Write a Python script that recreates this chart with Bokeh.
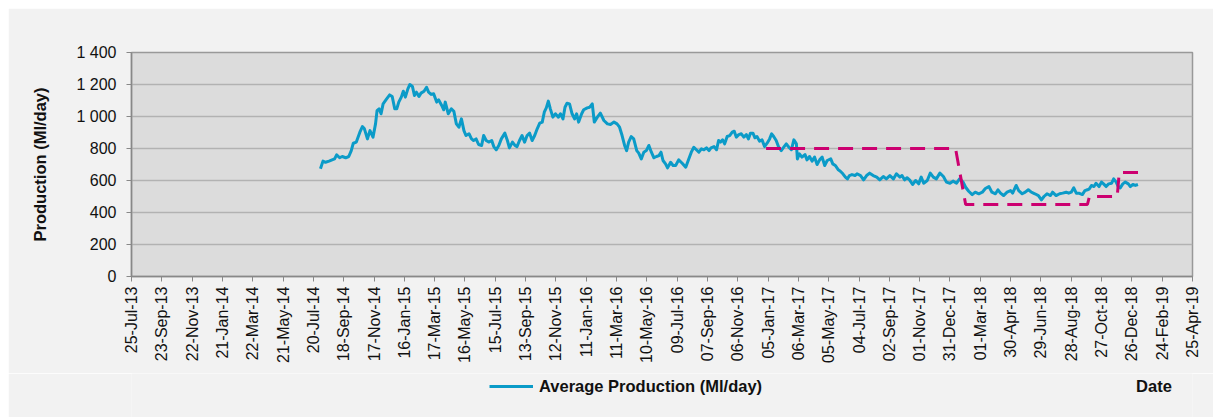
import pandas as pd
from bokeh.plotting import figure
from bokeh.layouts import column, row
from bokeh.models import (Range1d, FixedTicker, DatetimeTickFormatter, Legend, LegendItem,
                          ColumnDataSource, Spacer)
from bokeh.embed import file_html
from bokeh.resources import INLINE

# ---------------- data ----------------
origin = "2013-07-25"
days_since_origin = [
    374, 379, 384, 391, 397, 402, 406, 412, 417, 424, 430, 435, 439, 445, 452, 457, 461, 467, 472, 478,
    483, 486, 490, 494, 498, 505, 511, 516, 521, 525, 529, 534, 538, 542, 547, 551, 556, 560, 564, 569,
    573, 579, 584, 588, 593, 598, 604, 608, 614, 618, 621, 627,
    633, 638, 643, 648, 653, 658, 662, 668, 673, 677, 682, 687, 693, 697, 702, 707, 713, 717, 722, 727,
    732, 739, 744, 748, 754, 759, 763, 768, 773, 778, 783, 788, 793, 798, 803, 808, 813, 817, 821, 825,
    829, 834, 839, 845, 849, 854, 858, 862, 867, 872, 877, 881, 885, 891, 895,
    902, 907, 912, 916, 922, 928, 935, 942, 948, 955, 961, 966, 971, 976, 980, 984, 989, 994, 1000, 1004,
    1009, 1014, 1019, 1024, 1029, 1034, 1039, 1044, 1048, 1052, 1057, 1061, 1067, 1072, 1077, 1083, 1090,
    1097, 1103, 1108, 1113, 1118, 1123, 1128, 1133, 1138, 1143, 1147, 1153, 1158, 1162,
    1166, 1170, 1174, 1179, 1184, 1189, 1193, 1197, 1202, 1207, 1212, 1217, 1221, 1225, 1230, 1234, 1238,
    1243, 1248, 1253, 1258, 1263, 1267, 1271, 1276, 1281, 1286, 1291, 1296, 1301, 1306, 1311, 1316, 1318,
    1322, 1327, 1333, 1337, 1342, 1347, 1352, 1357, 1362, 1367, 1372, 1377, 1384, 1388, 1393, 1399, 1403,
    1408, 1413, 1417, 1421, 1426, 1432,
    1436, 1443, 1449, 1455, 1461, 1468, 1475, 1481, 1488, 1494, 1501, 1508, 1514, 1521, 1525, 1530, 1535,
    1540, 1546, 1552, 1558, 1563, 1568, 1575, 1581, 1587, 1593, 1600, 1607, 1613, 1620, 1626, 1633, 1639,
    1646, 1651, 1657, 1664, 1670, 1677, 1684,
    1690, 1697, 1703, 1710, 1715, 1720, 1726, 1733, 1740, 1744, 1751, 1756, 1763, 1769, 1775, 1781, 1788,
    1795, 1801, 1806, 1812, 1819, 1823, 1830, 1837, 1843, 1850, 1855, 1860, 1865, 1870, 1875, 1882, 1887,
    1892, 1896, 1900, 1905, 1909, 1915, 1920, 1924, 1929, 1934, 1940, 1944, 1949, 1953, 1957, 1962, 1967,
    1973, 1977, 1982, 1987, 1992,
]
production = [
    673, 721, 714, 721, 729, 735, 760, 742, 750, 742, 750, 787, 833, 840, 902, 937, 923, 860, 912, 871,
    954, 1037, 1048, 1017, 1079, 1110, 1135, 1125, 1048, 1048, 1090, 1121, 1158, 1121, 1173, 1200, 1188, 1131, 1152, 1125,
    1146, 1158, 1183, 1152, 1138, 1142, 1090, 1104, 1069, 1042, 1090, 1017,
    1048, 1033, 954, 933, 985, 912, 881, 892, 860, 850, 860, 825, 819, 881, 850, 840, 850, 812, 792, 819,
    860, 896, 850, 804, 840, 819, 812, 850, 881, 840, 881, 896, 850, 881, 923, 958, 965, 1027, 1054, 1096,
    1048, 996, 1017, 996, 1017, 985, 1058, 1083, 1079, 1017, 985, 1017, 965, 1017, 1042,
    1054, 1058, 1079, 965, 996, 1021, 975, 954, 950, 965, 954, 933, 881, 819, 787, 840, 875, 860, 787, 771,
    735, 777, 787, 819, 777, 742, 750, 756, 777, 725, 704, 679, 714, 694, 694, 729, 708,
    683, 735, 777, 808, 792, 777, 798, 792, 804, 787, 804, 812, 792, 850,
    840, 854, 829, 875, 881, 902, 908, 871, 887, 892, 871, 887, 860, 896, 896, 867, 875,
    846, 854, 812, 833, 860, 892, 875, 850, 808, 787, 808, 829, 808, 792, 854, 829, 735,
    767, 746, 762, 729, 750, 721, 746, 700, 729, 746, 694, 725, 735, 704, 694, 667, 658,
    642, 621, 610, 631, 637, 631,
    642, 631, 604, 631, 646, 631, 621, 604, 625, 610, 631, 610, 642, 621, 631, 604, 617,
    604, 575, 600, 579, 621, 583, 600, 646, 621, 610, 646, 625, 590, 583, 596, 583, 610,
    590, 558, 533, 512, 527, 517, 527,
    550, 562, 527, 517, 542, 521, 506, 527, 537, 521, 569, 537, 517, 527, 542, 527, 517,
    506, 479, 500, 517, 506, 527, 506, 517, 521, 527, 521, 527, 554, 521, 521, 512, 537,
    542, 548, 569, 562, 583, 562, 590, 579, 562, 579, 583, 610, 590, 562, 554, 579, 590,
    579, 562, 575, 569, 575,
]
target_dates = ["2017-01-01", "2018-01-11", "2018-01-31", "2018-09-29",
                "2018-10-03", "2018-11-27", "2018-12-01", "2019-01-08"]
target_values = [800, 800, 450, 450, 500, 500, 650, 650]

tick_labels = ["25-Jul-13", "23-Sep-13", "22-Nov-13", "21-Jan-14", "22-Mar-14", "21-May-14",
               "20-Jul-14", "18-Sep-14", "17-Nov-14", "16-Jan-15", "17-Mar-15", "16-May-15",
               "15-Jul-15", "13-Sep-15", "12-Nov-15", "11-Jan-16", "11-Mar-16", "10-May-16",
               "09-Jul-16", "07-Sep-16", "06-Nov-16", "05-Jan-17", "06-Mar-17", "05-May-17",
               "04-Jul-17", "02-Sep-17", "01-Nov-17", "31-Dec-17", "01-Mar-18", "30-Apr-18",
               "29-Jun-18", "28-Aug-18", "27-Oct-18", "26-Dec-18", "24-Feb-19", "25-Apr-19"]
y_ticks = [0, 200, 400, 600, 800, 1000, 1200, 1400]
y_tick_labels = ["0", "200", "400", "600", "800", "1 000", "1 200", "1 400"]
series_label = "Average Production (Ml/day)"
x_title = "Date"
y_title = "Production (Ml/day)"

BLUE = "#0b9bc8"
MAGENTA = "#cc0070"
FONT = "Liberation Sans"
BG = "#f2f2f2"

# ---------------- main chart ----------------
dates = pd.Timestamp(origin) + pd.to_timedelta(days_since_origin, unit="D")
tick_dates = pd.to_datetime(tick_labels, format="%d-%b-%y")
tick_ms = [int(t.value // 10**6) for t in tick_dates]

p = figure(width=1205, height=365, output_backend="svg", toolbar_location=None,
           x_axis_type="datetime",
           x_range=Range1d(tick_dates[0], tick_dates[-1]), y_range=Range1d(0, 1400),
           min_border_left=123, min_border_right=21, min_border_top=44, min_border_bottom=97)
p.background_fill_color = "#dcdcdc"
p.border_fill_color = BG
p.outline_line_color = "#999999"
p.outline_line_width = 1.5

p.xgrid.visible = False
p.ygrid.ticker = FixedTicker(ticks=y_ticks)
p.ygrid.grid_line_color = "#b2b2b2"
p.ygrid.grid_line_width = 1.5

prod_src = ColumnDataSource(dict(date=dates, value=production))
p.line("date", "value", source=prod_src, line_color=BLUE, line_width=3, line_join="round")
tgt_src = ColumnDataSource(dict(date=pd.to_datetime(target_dates), value=target_values))
p.line("date", "value", source=tgt_src, line_color=MAGENTA, line_width=3, line_dash="15 9")

xa = p.xaxis[0]
xa.ticker = FixedTicker(ticks=tick_ms)
fmt = "%d-%b-%y"
xa.formatter = DatetimeTickFormatter(milliseconds=fmt, seconds=fmt, minsec=fmt, minutes=fmt,
                                     hourmin=fmt, hours=fmt, days=fmt, months=fmt, years=fmt)
xa.major_label_orientation = 3.14159265 / 2
xa.major_label_text_font = FONT
xa.major_label_text_font_size = "16px"
xa.major_label_text_color = "#111111"
xa.major_tick_out = 5
xa.major_tick_in = 0
xa.minor_tick_out = 0
xa.minor_tick_in = 0
xa.major_label_standoff = 5
xa.axis_line_color = "#888888"
xa.axis_line_width = 1.5
xa.major_tick_line_color = "#888888"

ya = p.yaxis[0]
ya.ticker = FixedTicker(ticks=y_ticks)
ya.major_label_overrides = {t: s for t, s in zip(y_ticks, y_tick_labels)}
ya.major_label_text_font = FONT
ya.major_label_text_font_size = "16px"
ya.major_label_text_color = "#111111"
ya.major_tick_out = 5
ya.major_tick_in = 0
ya.minor_tick_out = 0
ya.minor_tick_in = 0
ya.major_label_standoff = 10
ya.axis_line_color = "#888888"
ya.axis_line_width = 1.5
ya.major_tick_line_color = "#888888"
ya.axis_label = y_title
ya.axis_label_text_font = FONT
ya.axis_label_text_font_size = "16.5px"
ya.axis_label_text_font_style = "bold"
ya.axis_label_text_color = "#111111"
ya.axis_label_standoff = 24

# ---------------- legend strip (separate small figure below the chart) ----------------
q = figure(width=1205, height=44, output_backend="svg", toolbar_location=None,
           x_range=Range1d(0, 1), y_range=Range1d(0, 1),
           x_axis_location=None, y_axis_location=None,
           min_border_left=0, min_border_right=0, min_border_top=0, min_border_bottom=0)
q.background_fill_color = BG
q.border_fill_color = BG
q.outline_line_color = None
q.grid.visible = False
# same series (falls outside this strip's ranges, so only its legend swatch shows)
r_swatch = q.line("date", "value", source=prod_src, line_color=BLUE, line_width=3)
r_blank = q.line("date", "value", source=prod_src, line_alpha=0)

items = [LegendItem(label=series_label, renderers=[r_swatch])]
items += [LegendItem(label=" ", renderers=[r_blank]) for _ in range(3)]
items += [LegendItem(label=x_title, renderers=[r_blank])]
legend = Legend(items=items, location=(358, 21), orientation="horizontal", spacing=0,
                glyph_width=44, glyph_height=20, label_standoff=6, label_width=58,
                label_height=20, padding=0, margin=0,
                border_line_color=None, background_fill_alpha=0,
                label_text_font=FONT, label_text_font_size="16.5px",
                label_text_font_style="bold", label_text_color="#111111")
q.add_layout(legend)

layout = column(Spacer(height=8), row(Spacer(width=8), column(p, q)))
open("out.html", "w").write(file_html(layout, INLINE))
